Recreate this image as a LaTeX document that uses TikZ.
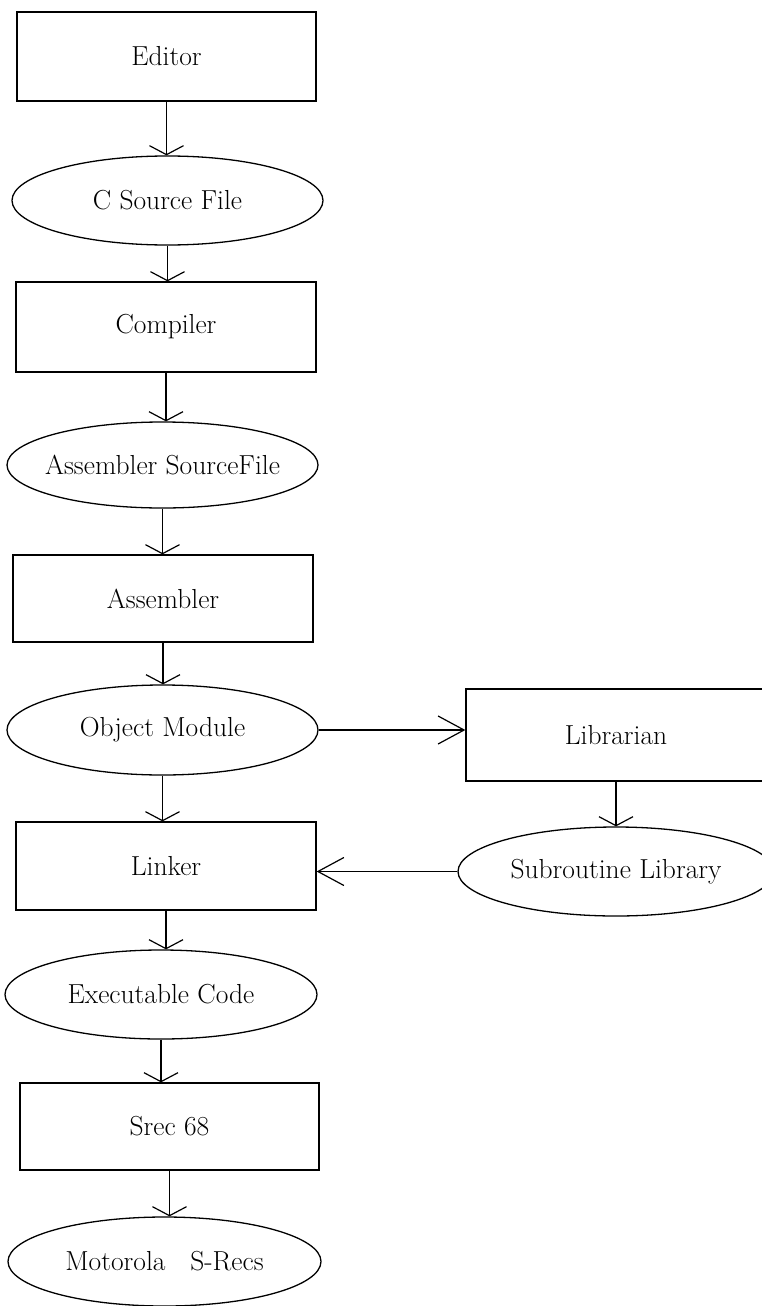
\documentclass[tikz,border=0pt]{standalone}
\usetikzlibrary{shapes.geometric,arrows.meta}
\newcommand{\zw}[1]{\makebox[0pt]{#1}}
\begin{document}
\begin{tikzpicture}[x=1pt,y=-1pt,
  every node/.style={font=\fontsize{27.5}{32}\selectfont},
  box/.style={draw,rectangle,line width=1.3pt,inner sep=0pt,minimum width=300pt,minimum height=89pt},
  oval/.style={draw,ellipse,line width=1.3pt,inner sep=0pt,minimum width=311pt,minimum height=89pt},
  flow/.style={line width=1.2pt,-{Straight Barb[length=9pt,width=34pt,line width=1.2pt]}},
  side/.style={line width=1.2pt,-{Straight Barb[length=26pt,width=28pt,line width=1.2pt]}}]
\useasboundingbox (0,0) rectangle (762,1306);
\clip (0,0) rectangle (762,1306);
\fill[white] (0,0) rectangle (762,1306);
\node[box,minimum width=299pt] (ed) at (166.5,56.5) {Editor};
\node[oval] (cs) at (167.5,200.5) {\zw{C Source File}};
\node[box,minimum height=90pt] (cp) at (166,327) {Compiler};
\node[oval,minimum height=86pt] (as) at (162.5,465) {\zw{Assembler SourceFile}};
\node[box,minimum height=87pt] (am) at (163,598.5) {Assembler};
\node[oval,minimum height=90pt] (om) at (162.5,730) {\zw{Object Module}};
\node[box,minimum height=92pt] (lb) at (616,735) {Librarian};
\node[box,minimum height=88pt] (lk) at (166,866) {Linker};
\node[oval,minimum width=316pt] (sl) at (616,871.5) {\zw{Subroutine Library}};
\node[oval,minimum width=312pt] (ex) at (161,994.5) {\zw{Executable Code}};
\node[box,minimum width=299pt,minimum height=87pt] (sr) at (169.5,1126.5) {Srec 68};
\node[oval,minimum width=313pt] (mo) at (164.5,1261.5) {\zw{Motorola\hspace{0.6em} S-Recs}};
\draw[flow] (ed.south) -- (ed.south |- cs.north);
\draw[flow] (cs.south) -- (cs.south |- cp.north);
\draw[flow] (cp.south) -- (cp.south |- as.north);
\draw[flow] (as.south) -- (as.south |- am.north);
\draw[flow] (am.south) -- (am.south |- om.north);
\draw[flow] (om.south) -- (om.south |- lk.north);
\draw[flow] (lk.south) -- (lk.south |- ex.north);
\draw[flow] (ex.south) -- (ex.south |- sr.north);
\draw[flow] (sr.south) -- (sr.south |- mo.north);
\draw[flow] (lb.south) -- (lb.south |- sl.north);
\draw[side] (om.east) -- (om.east -| lb.west);
\draw[side] (sl.west) -- (sl.west -| lk.east);
\end{tikzpicture}
\end{document}
